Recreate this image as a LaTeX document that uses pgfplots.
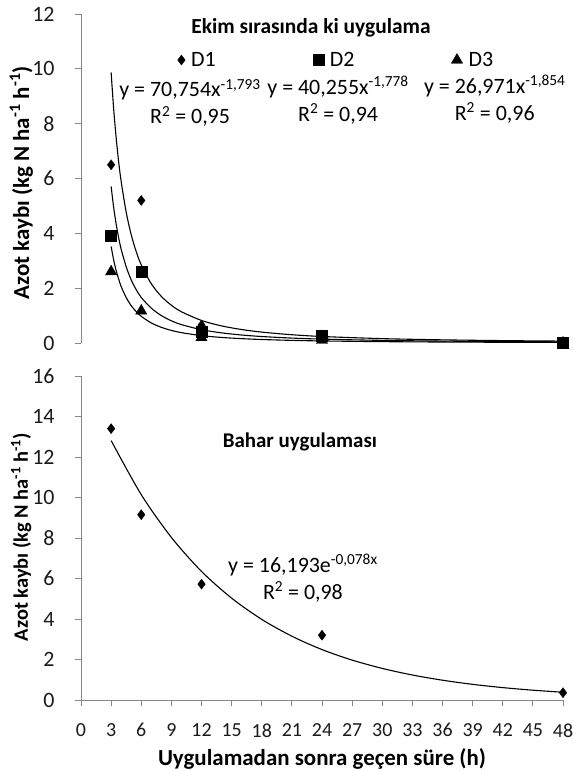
\documentclass[border=0pt]{standalone}
\usepackage{pgfplots}
\pgfplotsset{compat=1.18}
\usepackage{fontspec}
\setmainfont{Carlito}
\definecolor{axisgray}{HTML}{878787}
\definecolor{ticktext}{HTML}{1A1A1A}
\begin{document}
\begin{tikzpicture}[x=1bp,y=1bp]
\path[use as bounding box] (0,0) rectangle (573,771);
\pgfplotsset{
 myaxis/.style={
   scale only axis, width=482bp,
   xmin=0, xmax=48,
   axis line style={draw=axisgray, line width=0.9bp, -},
   tick style={draw=axisgray, line width=0.9bp},
   tick align=outside,
   major tick length=6bp,
   /pgf/number format/assume math mode=true,
   yticklabel style={font=\fontsize{22}{24}\selectfont, text=ticktext, xshift=-17bp},
   xticklabel style={font=\fontsize{20}{22}\selectfont, text=ticktext, yshift=-14bp},
   every axis y label/.style={rotate=90, anchor=center},
   every axis x label/.style={at={(axis description cs:0.5,0)}, anchor=north, yshift=-45bp, font=\bfseries\fontsize{23}{26}\selectfont},
   clip=false,
 },
 trend/.style={black, line width=1.1bp, smooth, no marks, forget plot},
}
% ---------- top panel ----------
\begin{axis}[myaxis,
  at={(81bp,428bp)}, anchor=south west,
  height=329bp,
  ymin=0, ymax=12, ytick={0,2,...,12},
  axis x line=none, axis y line*=left,
  ylabel={Azot kaybı (kg N ha\textsuperscript{-1} h\textsuperscript{-1})},
  ylabel style={at={(axis description cs:-0.124,0.487)}, font=\bfseries\fontsize{23}{26}\selectfont},
  legend columns=3,
  legend style={draw=none, fill=none, at={(axis description cs:0.53,0.86)}, anchor=center,
    font=\fontsize{22}{24}\selectfont,
    /tikz/every odd column/.append style={column sep=4bp},
    /tikz/every even column/.append style={column sep=95bp}},
]
\addplot[only marks, mark=diamond*, mark size=5bp, black] coordinates {(3,6.5)(6,5.2)(12,0.65)(24,0.3)(48,0.04)};
\addlegendentry{D1}
\addplot[only marks, mark=square*, mark size=5.5bp, black] coordinates {(3,3.92)(6,2.6)(12,0.4)(24,0.28)(48,0.0)};
\addlegendentry{D2}
\addplot[only marks, mark=triangle*, mark size=6.5bp, black] coordinates {(3,2.6)(6,1.17)(12,0.2)(24,0.1)(48,0.0)};
\addlegendentry{D3}
\addplot[trend] coordinates {(3,9.87)(3.25,8.55)(3.5,7.49)(3.75,6.61)(4,5.89)(4.5,4.77)(5,3.95)(5.5,3.33)(6,2.85)(7,2.16)(8,1.70)(9,1.377)(10,1.14)(12,0.822)(14,0.623)(16,0.491)(18,0.397)(21,0.301)(24,0.237)(30,0.159)(36,0.115)(42,0.0869)(48,0.0684)};
\addplot[trend] coordinates {(3,5.71)(3.25,4.95)(3.5,4.34)(3.75,3.84)(4,3.42)(4.5,2.78)(5,2.30)(5.5,1.943)(6,1.66)(7,1.27)(8,1.00)(9,0.809)(10,0.671)(12,0.485)(14,0.369)(16,0.291)(18,0.236)(21,0.179)(24,0.1415)(30,0.0951)(36,0.0688)(42,0.0523)(48,0.0413)};
\addplot[trend] coordinates {(3,3.52)(3.25,3.03)(3.5,2.64)(3.75,2.33)(4,2.06)(4.5,1.659)(5,1.36)(5.5,1.144)(6,0.973)(7,0.731)(8,0.571)(9,0.459)(10,0.377)(12,0.269)(14,0.202)(16,0.158)(18,0.127)(21,0.0954)(24,0.0745)(30,0.0492)(36,0.0351)(42,0.0264)(48,0.0206)};
\node[font=\bfseries\fontsize{21.5}{24}\selectfont] at (axis cs:22.9,11.5) {Ekim sırasında ki uygulama};
\node[align=center, font=\fontsize{22}{27}\selectfont] at (axis cs:10.86,8.75) {y = 70,754x\textsuperscript{-1,793}\\R\textsuperscript{2} = 0,95};
\node[align=center, font=\fontsize{22}{27}\selectfont] at (axis cs:25.6,8.85) {y = 40,255x\textsuperscript{-1,778}\\R\textsuperscript{2} = 0,94};
\node[align=center, font=\fontsize{22}{27}\selectfont] at (axis cs:41.2,8.9) {y = 26,971x\textsuperscript{-1,854}\\R\textsuperscript{2} = 0,96};
\end{axis}
% ---------- bottom panel ----------
\begin{axis}[myaxis,
  at={(81bp,71bp)}, anchor=south west,
  height=324bp,
  ymin=0, ymax=16, ytick={0,2,...,16},
  xtick={0,3,...,48},
  axis x line*=bottom, axis y line*=left,
  ylabel={Azot kaybı (kg N ha\textsuperscript{-1} h\textsuperscript{-1})},
  ylabel style={at={(axis description cs:-0.124,0.503)}, font=\bfseries\fontsize{20.5}{23}\selectfont},
  xlabel={Uygulamadan sonra geçen süre (h)},
]
\addplot[only marks, mark=diamond*, mark size=5bp, black] coordinates {(3,13.4)(6,9.15)(12,5.72)(24,3.2)(48,0.36)};
\addplot[trend] coordinates {(3,12.81)(6,10.14)(9,8.03)(12,6.35)(15,5.03)(18,3.98)(21,3.15)(24,2.49)(27,1.97)(30,1.56)(33,1.234)(36,0.977)(39,0.773)(42,0.612)(45,0.484)(48,0.383)};
\node[font=\bfseries\fontsize{21}{24}\selectfont] at (axis cs:21.8,12.74) {Bahar uygulaması};
\node[align=center, font=\fontsize{22}{27}\selectfont] at (axis cs:22.1,6.02) {y = 16,193e\textsuperscript{-0,078x}\\R\textsuperscript{2} = 0,98};
\end{axis}
\end{tikzpicture}
\end{document}
